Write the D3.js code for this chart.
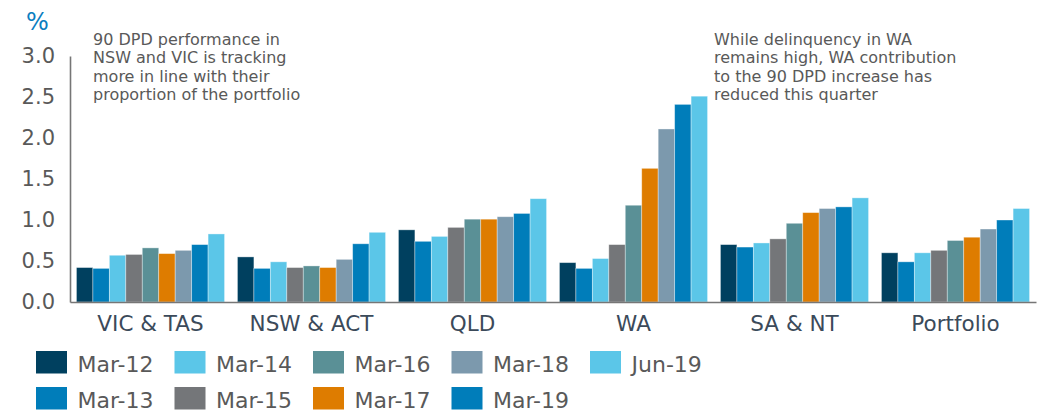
<!DOCTYPE html>
<html>
<head>
    <meta charset="UTF-8">
    <title>90 DPD by state</title>
    <style type="text/css">
        body {
            margin: 0;
            background-color: #ffffff;
            font-family: 'DejaVu Sans', Verdana, sans-serif;
        }

        .axis line { display: none; }

        .axis path {
            stroke: #767676;
            stroke-width: 1.6px;
        }

        .axis--y text {
            fill: #595959;
            font-size: 21px;
        }

        .axis--x text {
            fill: #3b4a5a;
            font-size: 21.5px;
        }

        .note, .legend text {
            fill: #595959;
        }
    </style>
</head>
<body>
    <script src="https://d3js.org/d3.v7.min.js"></script>
    <script type="text/javascript">
        // categories on the x axis
        const regions = ['VIC & TAS', 'NSW & ACT', 'QLD', 'WA', 'SA & NT', 'Portfolio'];

        // reporting periods (one bar each per region)
        const periods = ['Mar-12', 'Mar-13', 'Mar-14', 'Mar-15', 'Mar-16', 'Mar-17', 'Mar-18', 'Mar-19', 'Jun-19'];

        // 90 DPD % per period, in region order
        const mar12 = [0.42, 0.55, 0.88, 0.48, 0.70, 0.60];
        const mar13 = [0.41, 0.41, 0.74, 0.41, 0.67, 0.49];
        const mar14 = [0.57, 0.49, 0.80, 0.53, 0.72, 0.60];
        const mar15 = [0.58, 0.42, 0.91, 0.70, 0.77, 0.63];
        const mar16 = [0.66, 0.44, 1.01, 1.18, 0.96, 0.75];
        const mar17 = [0.59, 0.42, 1.01, 1.63, 1.09, 0.79];
        const mar18 = [0.63, 0.52, 1.04, 2.11, 1.14, 0.89];
        const mar19 = [0.70, 0.71, 1.08, 2.41, 1.16, 1.00];
        const jun19 = [0.83, 0.85, 1.26, 2.51, 1.27, 1.14];
        const seriesValues = [mar12, mar13, mar14, mar15, mar16, mar17, mar18, mar19, jun19];

        const colors = ['#00405f', '#007dba', '#5bc6e8', '#747679', '#5a9096', '#de7c00', '#7c99ad', '#007dba', '#5bc6e8'];

        // y axis ticks
        const yTicks = [0, 0.5, 1.0, 1.5, 2.0, 2.5, 3.0];

        const annotations = [
            { x: 93, lines: ['90 DPD performance in', 'NSW and VIC is tracking', 'more in line with their', 'proportion of the portfolio'] },
            { x: 714, lines: ['While delinquency in WA', 'remains high, WA contribution', 'to the 90 DPD increase has', 'reduced this quarter'] }
        ];

        const width = 1050, height = 411;
        const plot = { left: 70, right: 1036, top: 56, bottom: 302 };

        const svg = d3.select('body').append('svg')
                      .attr('width', width)
                      .attr('height', height);

        // scales
        const x0 = d3.scaleBand()
                     .domain(regions)
                     .range([plot.left, plot.right])
                     .paddingInner(0.08)
                     .paddingOuter(0.04);

        const x1 = d3.scaleBand()
                     .domain(periods)
                     .range([0, x0.bandwidth()]);

        const y = d3.scaleLinear()
                    .domain([0, 3])
                    .range([plot.bottom, plot.top]);

        // bars, one group per region
        const rows = regions.map((r, i) => ({
            region: r,
            values: periods.map((p, j) => ({ period: p, value: seriesValues[j][i], color: colors[j] }))
        }));

        const groups = svg.selectAll('.region')
            .data(rows)
            .enter()
            .append('g')
            .attr('class', 'region')
            .attr('transform', d => `translate(${x0(d.region)},0)`);

        groups.selectAll('rect')
            .data(d => d.values)
            .enter()
            .append('rect')
            .attr('x', d => x1(d.period))
            .attr('y', d => y(d.value))
            .attr('width', x1.bandwidth())
            .attr('height', d => y(0) - y(d.value))
            .attr('fill', d => d.color)
            .attr('stroke', 'rgba(255,255,255,0.45)')
            .attr('stroke-width', 0.8);

        // y axis
        svg.append('g')
            .attr('class', 'axis axis--y')
            .attr('transform', `translate(${plot.left},0)`)
            .call(d3.axisLeft(y).tickValues(yTicks).tickFormat(d3.format('.1f')).tickSize(0).tickSizeOuter(0).tickPadding(15))
            .call(g => g.selectAll('text').attr('font-family', null));

        // x axis
        svg.append('g')
            .attr('class', 'axis axis--x')
            .attr('transform', `translate(0,${plot.bottom})`)
            .call(d3.axisBottom(x0).tickSize(0).tickSizeOuter(0).tickPadding(14));

        d3.selectAll('.axis').attr('font-family', null).attr('font-size', null);

        // % unit label
        svg.append('text')
            .attr('x', 26)
            .attr('y', 30)
            .attr('fill', '#0a7dbf')
            .style('font-size', '24px')
            .text('%');

        // annotations
        annotations.forEach(a => {
            svg.append('text')
                .attr('class', 'note')
                .style('font-size', '16px')
                .selectAll('tspan')
                .data(a.lines)
                .enter()
                .append('tspan')
                .attr('x', a.x)
                .attr('y', (d, i) => 45 + i * 18.3)
                .text(d => d);
        });

        // legend, filled column by column in two rows
        const legend = svg.append('g')
                          .attr('class', 'legend');

        const items = legend.selectAll('.item')
            .data(periods)
            .enter()
            .append('g')
            .attr('class', 'item')
            .attr('transform', (d, i) => `translate(${36 + Math.floor(i / 2) * 138.5},${351 + (i % 2) * 36})`);

        items.append('rect')
            .attr('width', 31)
            .attr('height', 22.5)
            .attr('fill', (d, i) => colors[i]);

        items.append('text')
            .attr('x', 41.5)
            .attr('y', 20.5)
            .style('font-size', '22px')
            .text(d => d);
    </script>
</body>
</html>
